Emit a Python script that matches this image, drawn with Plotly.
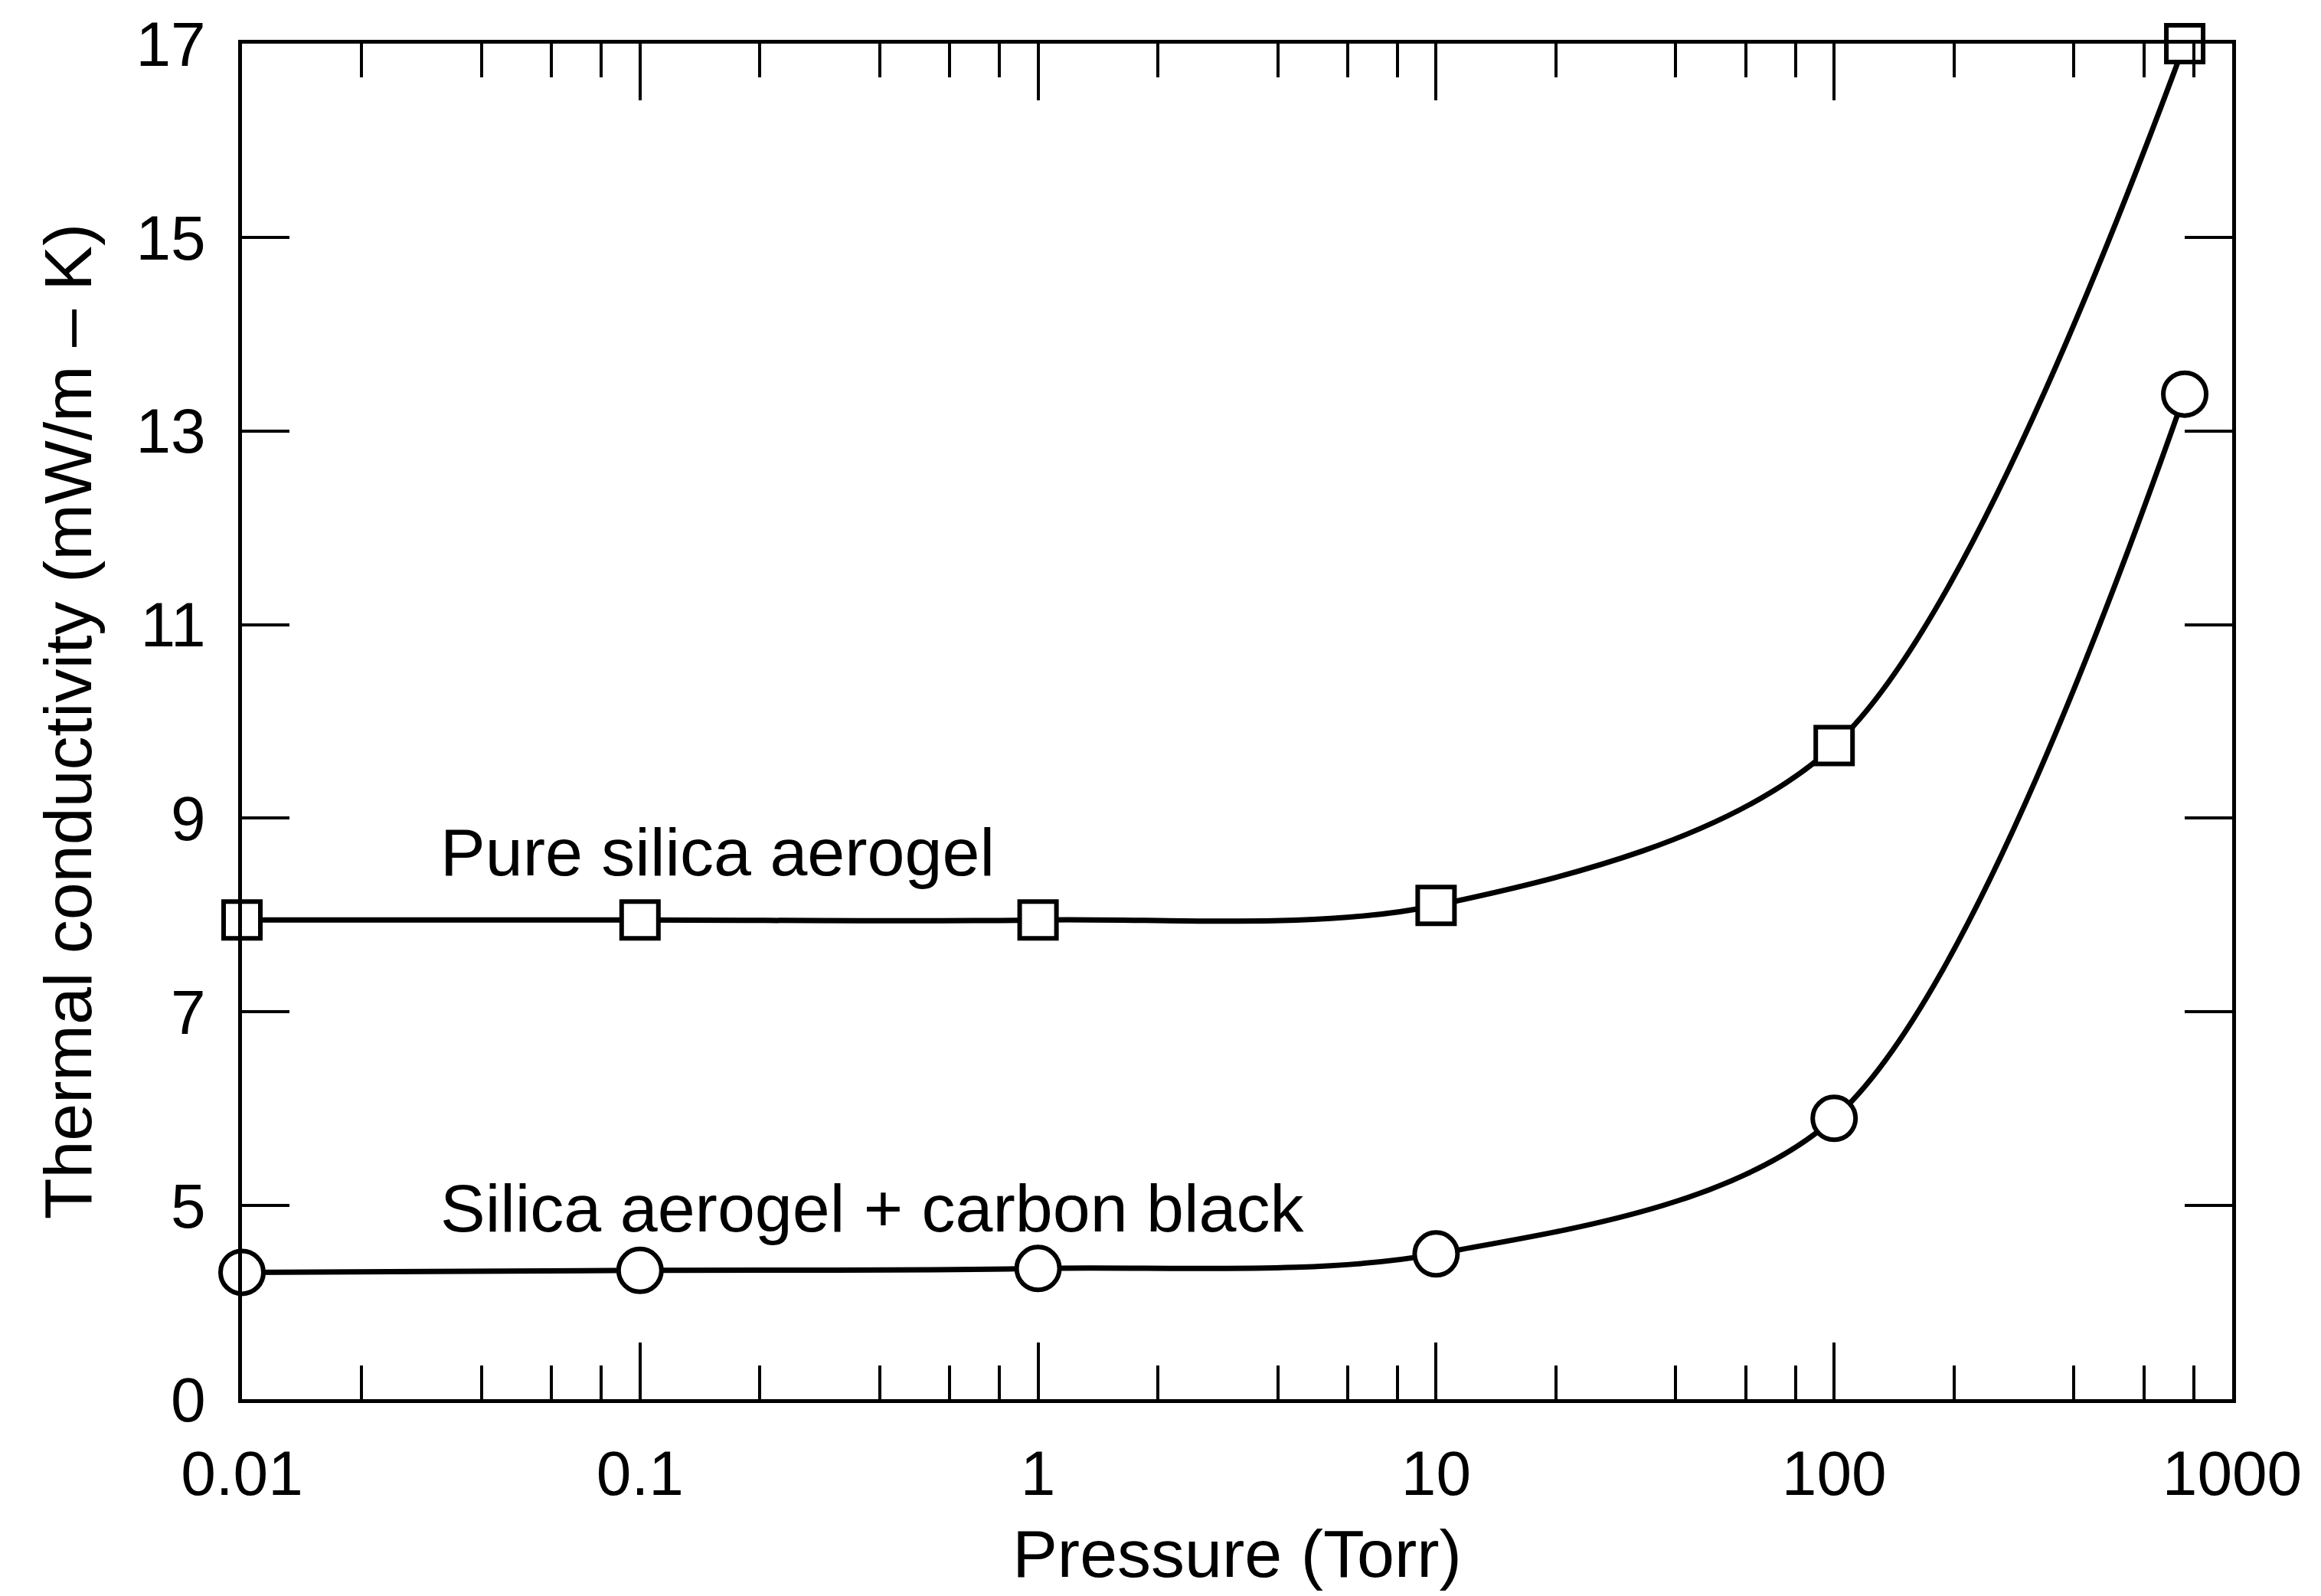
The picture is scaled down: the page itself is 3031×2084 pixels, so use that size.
import plotly.graph_objects as go

# Pressure points (Torr) and thermal conductivity readings (mW/m-K)
pressure = [0.01, 0.1, 1, 10, 100, 760]
pure_silica = [7.95, 7.95, 7.95, 8.1, 9.75, 17.0]
carbon_black = [4.31, 4.33, 4.35, 4.5, 5.9, 13.38]

# Y axis is drawn broken: the lowest label "0" sits one step below 5
y_tickvals = [3, 5, 7, 9, 11, 13, 15, 17]
y_ticktext = ["0", "5", "7", "9", "11", "13", "15", "17"]

x_tickvals = [0.01, 0.1, 1, 10, 100, 1000]
x_ticktext = ["0.01", "0.1", "1", "10", "100", "1000"]
x_minor = [m * 10 ** e for e in range(-2, 3) for m in (2, 4, 6, 8)]

FONT = "Liberation Sans, Arial, Helvetica, sans-serif"
LABEL_SIZE = 82
TITLE_SIZE = 88

fig = go.Figure()

fig.add_trace(go.Scatter(
    x=pressure, y=pure_silica, mode="lines+markers",
    line=dict(color="black", width=7, shape="spline", smoothing=0.9),
    marker=dict(symbol="square", size=48, color="white",
                line=dict(color="black", width=6)),
    cliponaxis=False, showlegend=False,
))
fig.add_trace(go.Scatter(
    x=pressure, y=carbon_black, mode="lines+markers",
    line=dict(color="black", width=7, shape="spline", smoothing=0.9),
    marker=dict(symbol="circle", size=56, color="white",
                line=dict(color="black", width=6)),
    cliponaxis=False, showlegend=False,
))

fig.add_annotation(x=-1.505, y=8.65, xref="x", yref="y", text="Pure silica aerogel",
                   showarrow=False, xanchor="left", yanchor="middle",
                   font=dict(family=FONT, size=TITLE_SIZE, color="black"))
fig.add_annotation(x=-1.505, y=4.97, xref="x", yref="y", text="Silica aerogel + carbon black",
                   showarrow=False, xanchor="left", yanchor="middle",
                   font=dict(family=FONT, size=TITLE_SIZE, color="black"))

fig.update_layout(
    width=3031, height=2084,
    margin=dict(l=316, r=116, t=52, b=257),
    paper_bgcolor="white", plot_bgcolor="white",
    font=dict(family=FONT, size=LABEL_SIZE, color="black"),
    xaxis=dict(
        type="log", range=[-2, 3],
        tickmode="array", tickvals=x_tickvals, ticktext=x_ticktext,
        ticks="inside", ticklen=74, tickwidth=4, tickcolor="black",
        ticklabelstandoff=22,
        minor=dict(tickmode="array", tickvals=x_minor, ticks="inside",
                   ticklen=44, tickwidth=4, tickcolor="black", showgrid=False),
        showline=True, linecolor="black", linewidth=5, mirror="ticks",
        showgrid=False, zeroline=False,
        tickfont=dict(family=FONT, size=LABEL_SIZE, color="black"),
        title=dict(text="Pressure (Torr)", standoff=30,
                   font=dict(family=FONT, size=TITLE_SIZE, color="black")),
    ),
    yaxis=dict(
        range=[3, 17],
        tickmode="array", tickvals=y_tickvals, ticktext=y_ticktext,
        ticks="inside", ticklen=62, tickwidth=4, tickcolor="black",
        ticklabelstandoff=26,
        showline=True, linecolor="black", linewidth=5, mirror="ticks",
        showgrid=False, zeroline=False,
        tickfont=dict(family=FONT, size=LABEL_SIZE, color="black"),
        title=dict(text="Thermal conductivity (mW/m \u2013 K)", standoff=30,
                   font=dict(family=FONT, size=TITLE_SIZE, color="black")),
    ),
)

fig.write_html("out.html")
